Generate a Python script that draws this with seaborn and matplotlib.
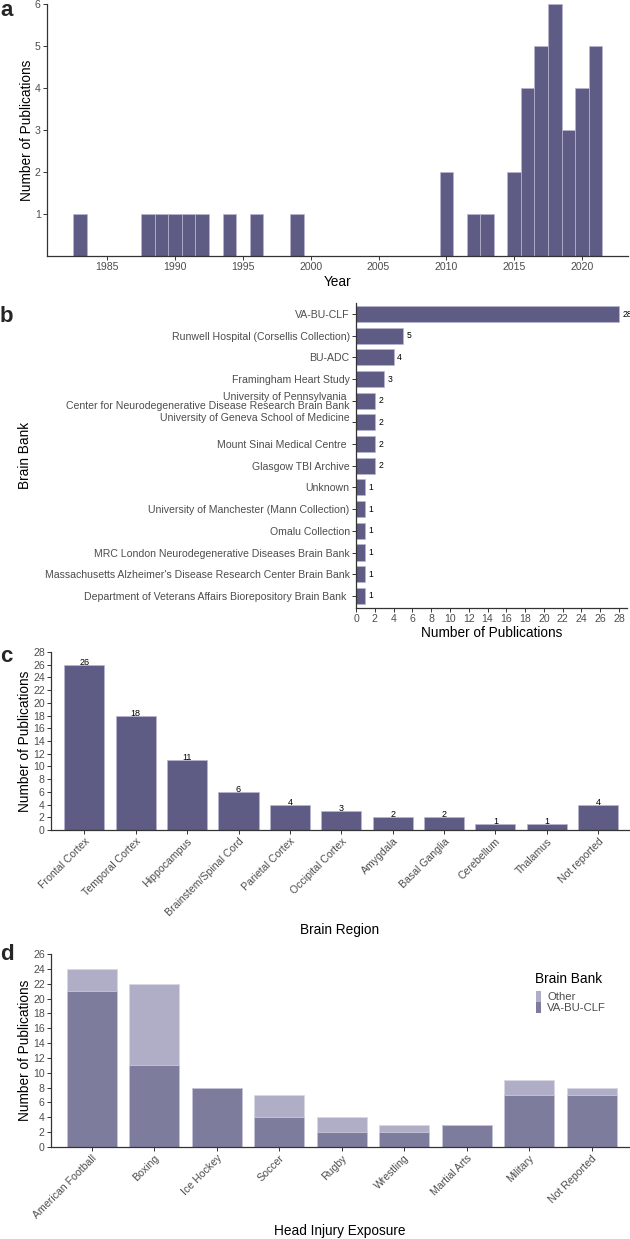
import matplotlib
matplotlib.use("Agg")
import matplotlib.pyplot as plt
import seaborn as sns
import pandas as pd
import numpy as np
from matplotlib.patches import Patch

sns.set_theme(style="white")
plt.rcParams['font.family'] = ['Liberation Sans', 'DejaVu Sans']

# ---------------- data ----------------
years = [1983, 1988, 1989, 1990, 1991, 1992, 1994, 1996, 1999, 2010, 2012, 2013,
         2015, 2016, 2017, 2018, 2019, 2020, 2021]
year_counts = [1, 1, 1, 1, 1, 1, 1, 1, 1, 2, 1, 1, 2, 4, 5, 6, 3, 4, 5]

banks = ["VA-BU-CLF",
         "Runwell Hospital (Corsellis Collection)",
         "BU-ADC",
         "Framingham Heart Study",
         "University of Pennsylvania \nCenter for Neurodegenerative Disease Research Brain Bank",
         "University of Geneva School of Medicine\n",
         "Mount Sinai Medical Centre ",
         "Glasgow TBI Archive",
         "Unknown",
         "University of Manchester (Mann Collection)",
         "Omalu Collection",
         "MRC London Neurodegenerative Diseases Brain Bank",
         "Massachusetts Alzheimer's Disease Research Center Brain Bank",
         "Department of Veterans Affairs Biorepository Brain Bank "]
bank_counts = [28, 5, 4, 3, 2, 2, 2, 2, 1, 1, 1, 1, 1, 1]

regions = ["Frontal Cortex", "Temporal Cortex", "Hippocampus", "Brainstem/Spinal Cord",
           "Parietal Cortex", "Occipital Cortex", "Amygdala", "Basal Ganglia",
           "Cerebellum", "Thalamus", "Not reported"]
region_counts = [26, 18, 11, 6, 4, 3, 2, 2, 1, 1, 4]

exposures = ["American Football", "Boxing", "Ice Hockey", "Soccer", "Rugby",
             "Wrestling", "Martial Arts", "Military", "Not Reported"]
vabuclf = [21, 11, 8, 4, 2, 2, 3, 7, 7]
other = [3, 11, 0, 3, 2, 1, 0, 2, 1]

# ---------------- style ----------------
BAR = "#5E5B85"
EDGE = "#B9B7D0"
C_VA = "#7E7C9D"
C_OT = "#B0AEC6"
TICKC = "#4D4D4D"
TICK_FS = 7.6
TITLE_FS = 9.8

W, H = 630, 1239
fig = plt.figure(figsize=(W / 100, H / 100), dpi=100)


def add_ax(x0, x1, y0, y1):
    return fig.add_axes([x0 / W, 1 - y1 / H, (x1 - x0) / W, (y1 - y0) / H])


def style(ax):
    for s in ["top", "right"]:
        ax.spines[s].set_visible(False)
    for s in ["left", "bottom"]:
        ax.spines[s].set_color("#333333")
        ax.spines[s].set_linewidth(0.9)
    ax.tick_params(axis="both", which="both", length=3, width=0.7, color="#333333",
                   labelsize=TICK_FS, labelcolor=TICKC, pad=1.5,
                   bottom=True, left=True)
    ax.grid(False)


def xlabel_at(ax, text, y_center_px, y0, y1):
    ax.set_xlabel(text, fontsize=TITLE_FS, color="black")
    ax.xaxis.set_label_coords(0.5, (y1 - y_center_px) / (y1 - y0))
    ax.xaxis.label.set_va("center")


def ylabel_at(ax, text, x_center_px, x0, x1):
    ax.set_ylabel(text, fontsize=TITLE_FS, color="black")
    ax.yaxis.set_label_coords((x_center_px - x0) / (x1 - x0), 0.5)
    ax.yaxis.label.set_ha("center")
    ax.yaxis.label.set_va("center")


# ---------------- panel a ----------------
ax = add_ax(47, 628, 4, 256)
sns.histplot(x=years, weights=year_counts, binwidth=1, binrange=(1982.5, 2021.5),
             color=BAR, alpha=1, edgecolor=EDGE, linewidth=0.5, ax=ax)
ax.set_xlim(1980.55, 2023.4)
ax.set_ylim(0, 6)
ax.set_xticks(range(1985, 2021, 5))
ax.set_yticks(range(1, 7))
style(ax)
xlabel_at(ax, "Year", 282, 4, 256)
ylabel_at(ax, "Number of Publications", 27, 47, 628)
fig.text(0 / W, 1 - 11 / H, "a", fontsize=16, fontweight="bold", va="center", ha="left")

# ---------------- panel b ----------------
ax = add_ax(356, 627, 303, 608)
dfb = pd.DataFrame({"bank": banks, "n": bank_counts})
sns.barplot(data=dfb, x="n", y="bank", orient="h", color=BAR, saturation=1,
            width=0.74, edgecolor=EDGE, linewidth=0.5, ax=ax)
ax.set_xlim(0, 28.85)
ax.set_ylim(len(banks) - 1 + 0.56, -0.51)
ax.set_xticks(range(0, 29, 2))
style(ax)
for t in ax.get_yticklabels():
    t.set_linespacing(0.95)
for i, v in enumerate(bank_counts):
    ax.annotate(str(v), (v, i), xytext=(2.5, 0), textcoords="offset points",
                va="center", ha="left", fontsize=6.2, color="black")
xlabel_at(ax, "Number of Publications", 633, 303, 608)
ylabel_at(ax, "Brain Bank", 25, 356, 627)
fig.text(0 / W, 1 - 317 / H, "b", fontsize=16, fontweight="bold", va="center", ha="left")

# ---------------- panel c ----------------
ax = add_ax(51, 629, 652, 830)
dfc = pd.DataFrame({"region": regions, "n": region_counts})
sns.barplot(data=dfc, x="region", y="n", color=BAR, saturation=1, width=0.78,
            edgecolor=EDGE, linewidth=0.5, ax=ax)
ax.set_xlim(-0.65, len(regions) - 1 + 0.6)
ax.set_ylim(0, 28)
ax.set_yticks(range(0, 29, 2))
style(ax)
for i, v in enumerate(region_counts):
    ax.text(i, v, str(v), ha="center", va="baseline", fontsize=6.5, color="black")
plt.setp(ax.get_xticklabels(), rotation=45, ha="right", va="top", rotation_mode="anchor")
xlabel_at(ax, "Brain Region", 930, 652, 830)
ylabel_at(ax, "Number of Publications", 25, 51, 629)
fig.text(0 / W, 1 - 657 / H, "c", fontsize=16, fontweight="bold", va="center", ha="left")

# ---------------- panel d ----------------
ax = add_ax(51, 629, 954, 1147)
total = [a + b for a, b in zip(vabuclf, other)]
dfd = pd.DataFrame({"exposure": exposures, "total": total, "va": vabuclf})
sns.barplot(data=dfd, x="exposure", y="total", color=C_OT, saturation=1, width=0.8,
            edgecolor="#D8D7E4", linewidth=0.6, ax=ax)
sns.barplot(data=dfd, x="exposure", y="va", color=C_VA, saturation=1, width=0.8,
            edgecolor="#C9C8DA", linewidth=0.6, ax=ax)
ax.set_xlim(-0.65, len(exposures) - 1 + 0.6)
ax.set_ylim(0, 26)
ax.set_yticks(range(0, 27, 2))
style(ax)
plt.setp(ax.get_xticklabels(), rotation=45, ha="right", va="top", rotation_mode="anchor")
xlabel_at(ax, "Head Injury Exposure", 1231, 954, 1147)
ylabel_at(ax, "Number of Publications", 25, 51, 629)
fig.text(535 / W, 1 - 979 / H, "Brain Bank", fontsize=TITLE_FS, color="black",
         ha="left", va="center")
handles = [Patch(facecolor=C_OT, edgecolor="none", label="Other"),
           Patch(facecolor=C_VA, edgecolor="none", label="VA-BU-CLF")]
leg = ax.legend(handles=handles, loc="upper left",
                bbox_to_anchor=(536 / W, 1 - 991 / H), bbox_transform=fig.transFigure,
                frameon=False, fontsize=8.2,
                handlelength=0.45, handleheight=1.05, labelspacing=0.0,
                handletextpad=0.55, borderpad=0, borderaxespad=0)
for t in leg.get_texts():
    t.set_color(TICKC)
fig.text(0 / W, 1 - 954 / H, "d", fontsize=16, fontweight="bold", va="center", ha="left")

fig.savefig("out.png", dpi=100)
